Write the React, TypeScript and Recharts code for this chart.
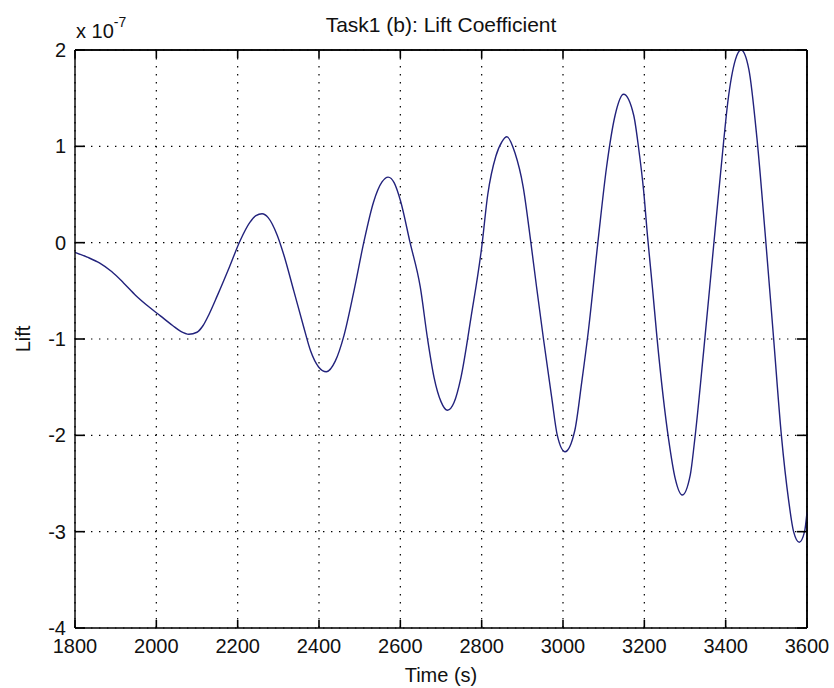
import React from "react";
import { LineChart, Line, XAxis, YAxis, CartesianGrid, ReferenceLine } from "recharts";

// Time (s)
const timeS = [
  1800, 1830, 1860, 1890, 1920, 1950, 1980, 2010, 2040, 2060, 2080, 2100, 2115, 2130, 2150, 2180, 2206,
  2230, 2245, 2260, 2275, 2297, 2313, 2338, 2362, 2379, 2399, 2418, 2440, 2461, 2486, 2510, 2534, 2555,
  2570, 2585, 2600, 2624, 2649, 2667, 2683, 2700, 2716, 2732, 2749, 2774, 2800, 2815, 2835, 2850, 2862,
  2882, 2902, 2921, 2935, 2952, 2972, 2986, 3005, 3029, 3046, 3062, 3087, 3107, 3128, 3149, 3174, 3186,
  3198, 3208, 3220, 3231, 3260, 3276, 3293, 3313, 3323, 3346, 3370, 3395, 3405, 3424, 3438, 3457, 3477,
  3497, 3518, 3537, 3555, 3567, 3581, 3594, 3600,
];

// Lift, in units of 1e-7
const liftE7 = [
  -0.1, -0.15, -0.21, -0.3, -0.42, -0.55, -0.66, -0.76, -0.86, -0.92, -0.95, -0.93, -0.86, -0.74, -0.55,
  -0.25, 0.02, 0.21, 0.28, 0.3, 0.26, 0.08, -0.12, -0.5, -0.87, -1.12, -1.29, -1.34, -1.23, -0.97, -0.5,
  0.0, 0.42, 0.63, 0.68, 0.62, 0.44, 0.0, -0.46, -1.0, -1.4, -1.65, -1.74, -1.66, -1.4, -0.77, -0.05, 0.5,
  0.9, 1.05, 1.1, 0.93, 0.58, 0.0, -0.46, -1.0, -1.6, -2.0, -2.17, -1.95, -1.45, -0.93, 0.05, 0.78, 1.32,
  1.54, 1.32, 0.98, 0.55, 0.06, -0.47, -0.98, -2.05, -2.45, -2.62, -2.41, -2.08, -1.12, -0.05, 1.05, 1.45,
  1.9, 2.0, 1.8, 1.08, 0.1, -1.0, -2.0, -2.68, -3.0, -3.11, -3.0, -2.8,
];

const xTicks = [1800, 2000, 2200, 2400, 2600, 2800, 3000, 3200, 3400, 3600];
const yTicks = [-4, -3, -2, -1, 0, 1, 2];

const titleText = "Task1 (b): Lift Coefficient";
const xLabel = "Time (s)";
const yLabel = "Lift";
const exponentBase = "x 10";
const exponentPower = "-7";

const data = timeS.map((t, i) => ({ t, lift: liftE7[i] }));

const FONT = "'Liberation Sans', Arial, Helvetica, sans-serif";
const AXIS = "#000";
const W = 834;
const H = 688;
const M_TOP = 50;
const M_RIGHT = 27;
const PLOT_TOP = M_TOP;
const PLOT_RIGHT = W - M_RIGHT;

const BottomTick = (props: any) => {
  const { x, y, payload } = props;
  const isLast = payload.value === xTicks[xTicks.length - 1];
  return (
    <g>
      <line x1={x} y1={y} x2={x} y2={y - 8} stroke={AXIS} strokeWidth={1.6} />
      <line x1={x} y1={PLOT_TOP} x2={x} y2={PLOT_TOP + 8} stroke={AXIS} strokeWidth={1.6} />
      {isLast && <line x1={x} y1={y} x2={x} y2={PLOT_TOP} stroke={AXIS} strokeWidth={1.4} />}
      <text x={x} y={y + 18} textAnchor="middle" dominantBaseline="central" fontFamily={FONT} fontSize={20} fill="#111">
        {payload.value}
      </text>
    </g>
  );
};

const LeftTick = (props: any) => {
  const { x, y, payload } = props;
  const isTop = payload.value === yTicks[yTicks.length - 1];
  return (
    <g>
      <line x1={x} y1={y} x2={x + 10} y2={y} stroke={AXIS} strokeWidth={1.6} />
      <line x1={PLOT_RIGHT} y1={y} x2={PLOT_RIGHT - 10} y2={y} stroke={AXIS} strokeWidth={1.6} />
      {isTop && <line x1={x} y1={y} x2={PLOT_RIGHT} y2={y} stroke={AXIS} strokeWidth={1.4} />}
      <text x={x - 9} y={y} textAnchor="end" dominantBaseline="central" fontFamily={FONT} fontSize={20} fill="#111">
        {payload.value}
      </text>
    </g>
  );
};

const XLabelContent = (props: any) => {
  const vb = props.viewBox || {};
  return (
    <text x={vb.x + vb.width / 2} y={vb.y + 47} textAnchor="middle" dominantBaseline="central" fontFamily={FONT} fontSize={20} fill="#111">
      {xLabel}
    </text>
  );
};

const YLabelContent = (props: any) => {
  const vb = props.viewBox || {};
  const cx = 23;
  const cy = vb.y + vb.height / 2;
  const axisX = vb.x + vb.width;
  return (
    <g>
      <text x={cx} y={cy} transform={`rotate(-90 ${cx} ${cy})`} textAnchor="middle" dominantBaseline="central" fontFamily={FONT} fontSize={20} fill="#111">
        {yLabel}
      </text>
      <text x={axisX + 1} y={vb.y - 12} fontFamily={FONT} fontSize={20} fill="#111">
        {exponentBase}
        <tspan dy={-11} fontSize={14}>{exponentPower}</tspan>
      </text>
      <text x={(axisX + PLOT_RIGHT) / 2} y={vb.y - 26} textAnchor="middle" dominantBaseline="central" fontFamily={FONT} fontSize={21} fill="#111">
        {titleText}
      </text>
    </g>
  );
};

export default function App() {
  return (
    <div style={{ position: "fixed", left: 0, top: 0, width: W, height: H, background: "#fff" }}>
      <LineChart width={W} height={H} data={data} margin={{ top: M_TOP, right: M_RIGHT, bottom: 30, left: 0 }}>
        <CartesianGrid stroke="#000" strokeDasharray="1.4 6.6" strokeWidth={1.2} horizontalValues={yTicks} verticalValues={xTicks} />
        <ReferenceLine y={yTicks[yTicks.length - 1]} stroke={AXIS} strokeWidth={1.6} ifOverflow="visible" />
        <ReferenceLine x={xTicks[xTicks.length - 1]} stroke={AXIS} strokeWidth={1.6} ifOverflow="visible" />
        <XAxis
          dataKey="t"
          type="number"
          domain={[1800, 3600]}
          ticks={xTicks}
          interval={0}
          height={30}
          stroke={AXIS}
          strokeWidth={1.4}
          tickLine={false}
          tickSize={0}
          tickMargin={0}
          tick={<BottomTick />}
          label={{ content: <XLabelContent /> } as any}
        />
        <YAxis
          type="number"
          domain={[-4, 2]}
          ticks={yTicks}
          interval={0}
          width={75}
          stroke={AXIS}
          strokeWidth={1.4}
          tickLine={false}
          tickSize={0}
          tickMargin={0}
          tick={<LeftTick />}
          label={{ content: <YLabelContent /> } as any}
        />
        <Line
          type="monotone"
          dataKey="lift"
          stroke="#22227c"
          strokeWidth={1.4}
          dot={false}
          activeDot={false}
          isAnimationActive={false}
        />
      </LineChart>
    </div>
  );
}
